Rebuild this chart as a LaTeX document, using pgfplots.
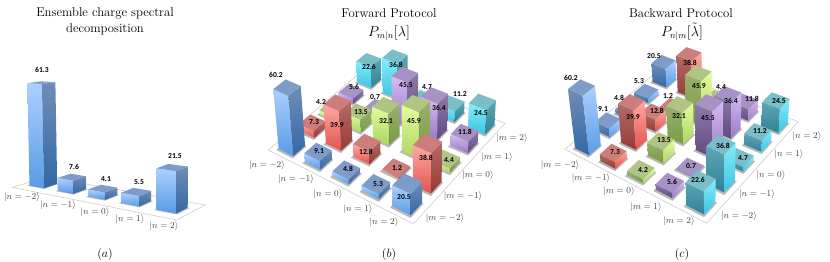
\documentclass[border=0pt]{standalone}
\usepackage{fontspec}
\usepackage{pgfplots}
\pgfplotsset{compat=1.18}
\newfontfamily\vf{Carlito}
\definecolor{blueFT}{RGB}{172,208,255}\definecolor{blueFB}{RGB}{88,155,228}\definecolor{blueST}{RGB}{112,140,182}\definecolor{blueSB}{RGB}{52,104,165}\definecolor{blueTop}{RGB}{126,156,200}
\definecolor{redFT}{RGB}{255,168,162}\definecolor{redFB}{RGB}{226,84,78}\definecolor{redST}{RGB}{178,108,102}\definecolor{redSB}{RGB}{150,58,54}\definecolor{redTop}{RGB}{206,126,122}
\definecolor{greenFT}{RGB}{228,252,158}\definecolor{greenFB}{RGB}{172,212,100}\definecolor{greenST}{RGB}{152,176,108}\definecolor{greenSB}{RGB}{120,155,70}\definecolor{greenTop}{RGB}{176,196,132}
\definecolor{purpleFT}{RGB}{212,188,242}\definecolor{purpleFB}{RGB}{155,120,196}\definecolor{purpleST}{RGB}{142,122,168}\definecolor{purpleSB}{RGB}{94,74,130}\definecolor{purpleTop}{RGB}{166,146,196}
\definecolor{cyanFT}{RGB}{132,236,250}\definecolor{cyanFB}{RGB}{60,196,226}\definecolor{cyanST}{RGB}{92,166,182}\definecolor{cyanSB}{RGB}{48,130,150}\definecolor{cyanTop}{RGB}{122,190,200}
\newcommand\setH[8]{%
 \pgfmathsetmacro\xq{#1/100}\pgfmathsetmacro\yq{(262-#2)/100}%
 \pgfmathsetmacro\xr{#3/100}\pgfmathsetmacro\yr{(262-#4)/100}%
 \pgfmathsetmacro\xs{#5/100}\pgfmathsetmacro\ys{(262-#6)/100}%
 \pgfmathsetmacro\xt{#7/100}\pgfmathsetmacro\yt{(262-#8)/100}%
 \pgfmathsetmacro\dxa{\xr-\xs}\pgfmathsetmacro\dxb{\xt-\xs}\pgfmathsetmacro\sx{\xq-\xr+\xs-\xt}%
 \pgfmathsetmacro\dya{\yr-\ys}\pgfmathsetmacro\dyb{\yt-\ys}\pgfmathsetmacro\sy{\yq-\yr+\ys-\yt}%
 \pgfmathsetmacro\den{\dxa*\dyb-\dxb*\dya}%
 \pgfmathsetmacro\hmg{(\sx*\dyb-\dxb*\sy)/\den}\pgfmathsetmacro\hmh{(\dxa*\sy-\sx*\dya)/\den}%
 \pgfmathsetmacro\hma{\xr-\xq+\hmg*\xr}\pgfmathsetmacro\hmb{\xt-\xq+\hmh*\xt}\let\hmc\xq
 \pgfmathsetmacro\hmd{\yr-\yq+\hmg*\yr}\pgfmathsetmacro\hme{\yt-\yq+\hmh*\yt}\let\hmf\yq
}
% height scale from one measured bar edge: base x,y top x,y value; then the vanishing point of the verticals
\newcommand\setZ[7]{%
 \pgfmathsetmacro\iA{\hme-\hmf*\hmh}\pgfmathsetmacro\iB{\hmc*\hmh-\hmb}\pgfmathsetmacro\iC{\hmb*\hmf-\hmc*\hme}%
 \pgfmathsetmacro\iD{\hmf*\hmg-\hmd}\pgfmathsetmacro\iE{\hma-\hmc*\hmg}\pgfmathsetmacro\iF{\hmc*\hmd-\hma*\hmf}%
 \pgfmathsetmacro\iG{\hmd*\hmh-\hme*\hmg}\pgfmathsetmacro\iH{\hmb*\hmg-\hma*\hmh}\pgfmathsetmacro\iI{\hma*\hme-\hmb*\hmd}%
 \pgfmathsetmacro\bX{#1/100}\pgfmathsetmacro\bY{(262-#2)/100}\pgfmathsetmacro\tY{(262-#4)/100}%
 \pgfmathsetmacro\bW{\iG*\bX+\iH*\bY+\iI}%
 \pgfmathsetmacro\bS{(\iA*\bX+\iB*\bY+\iC)/\bW}\pgfmathsetmacro\bT{(\iD*\bX+\iE*\bY+\iF)/\bW}%
 \pgfmathsetmacro\wo{\hmg*\bS+\hmh*\bT+1}%
 \pgfmathsetmacro\Vx{#6/100}\pgfmathsetmacro\Vy{(262-#7)/100}%
 \pgfmathsetmacro\zk{1000*\wo*((\bY-\Vy)/(\tY-\Vy)-1)/#5}%
}
% cell position x, y and height z in the panel's perspective, to a coordinate pair
\newcommand\Pt[4]{%
 \pgfmathsetmacro\nls{#1/\xdiv}\pgfmathsetmacro\nlt{#2/\ydiv}\pgfmathsetmacro\nlr{#3*\zk/1000}%
 \pgfmathsetmacro\nlw{\hmg*\nls+\hmh*\nlt+1+\nlr}%
 \pgfmathsetmacro\pX{100*(\hma*\nls+\hmb*\nlt+\hmc+\nlr*\Vx)/\nlw}%
 \pgfmathsetmacro\pY{100*(\hmd*\nls+\hme*\nlt+\hmf+\nlr*\Vy)/\nlw}%
 \edef#4{(\pX,\pY)}%
}
\def\gapx{0.22}\def\gapy{0.22}\def\faceL{F}\def\faceR{S}\def\xdiv{5}\def\ydiv{5}\def\shy{1}
\newcommand\floorplate[1]{%
 \Pt{0}{0}{0}\fA\Pt{5}{0}{0}\fB\Pt{5}{#1}{0}\fC\Pt{0}{#1}{0}\fD
 \edef\tmp{\noexpand\addplot[draw=black!22,fill=white,line width=0.5pt] coordinates {\fA\fB\fC\fD\fA};}\tmp
}
% cell x, cell y, value, colour
\newcommand\vbar[4]{%
 \pgfmathsetmacro\xa{#1+\gapx}\pgfmathsetmacro\xb{#1+1-\gapx}%
 \pgfmathsetmacro\ya{#2+\gapy}\pgfmathsetmacro\yb{#2+1-\gapy}%
 \pgfmathsetmacro\sxa{\xa-0.03}\pgfmathsetmacro\sxb{\xb+0.05}\pgfmathsetmacro\sya{\ya-0.08*\shy}%
 \Pt{\sxa}{\sya}{0}\sA\Pt{\sxb}{\sya}{0}\sB\Pt{\sxb}{\yb}{0}\sC\Pt{\sxa}{\yb}{0}\sD
 \Pt{\xa}{\ya}{0}\vA\Pt{\xb}{\ya}{0}\vB\Pt{\xb}{\yb}{0}\vC
 \Pt{\xa}{\ya}{#3}\vE\Pt{\xb}{\ya}{#3}\vF\Pt{\xb}{\yb}{#3}\vG\Pt{\xa}{\yb}{#3}\vH
 \edef\tmp{%
  \noexpand\addplot[draw=none,fill=black,fill opacity=0.28] coordinates {\sA\sB\sC\sD\sA};
  \noexpand\addplot[draw=none,top color=#4\faceL T,bottom color=#4\faceL B] coordinates {\vA\vB\vF\vE\vA};
  \noexpand\addplot[draw=none,top color=#4\faceR T,bottom color=#4\faceR B] coordinates {\vB\vC\vG\vF\vB};
  \noexpand\addplot[draw=none,fill=#4Top] coordinates {\vE\vF\vG\vH\vE};
 }\tmp
}
\newcommand\lab[3]{\node[font=\fontsize{9.2}{10}\selectfont,text=black!75] at (#1,#2) {$|#3\rangle$};}
\newcommand\val[3]{\node[font=\vf\bfseries\fontsize{7.6}{8}\selectfont,inner sep=0pt] at (#1,#2) {#3};}
\begin{document}
\begin{tikzpicture}[x=1pt,y=1pt]
\path[use as bounding box] (0,0) rectangle (830,262);
\begin{axis}[hide axis,disabledatascaling,clip=false,anchor=south west,at={(0pt,0pt)},
  xmin=0,xmax=830,ymin=0,ymax=262,no marks,x=1pt,y=1pt]
% ---------- panel a
\setH{12.5}{187.5}{176.7}{220}{205}{205}{46}{177}
\setZ{45}{188.3}{43.3}{78.3}{61.3}{175}{7000}
\def\gapx{0.24}\def\gapy{0.3}\def\shy{0.5}\def\ydiv{1}
\floorplate{1}
\vbar{0}{0}{61.3}{blue}
\vbar{1}{0}{7.6}{blue}
\vbar{2}{0}{4.1}{blue}
\vbar{3}{0}{5.5}{blue}
\vbar{4}{0}{21.5}{blue}
% ---------- panel b
\setH{268.3}{150}{413.3}{224}{505}{123.3}{365.3}{68.3}
\setZ{295}{155.7}{292.7}{95}{60.2}{410}{1600}
\def\gapx{0.22}\def\gapy{0.22}\def\shy{1}\def\ydiv{5}
\floorplate{5}
\vbar{0}{4}{22.6}{cyan}\vbar{1}{4}{36.8}{cyan}\vbar{2}{4}{4.7}{cyan}\vbar{3}{4}{11.2}{cyan}\vbar{4}{4}{24.5}{cyan}
\vbar{0}{3}{5.6}{purple}\vbar{1}{3}{0.7}{purple}\vbar{2}{3}{45.5}{purple}\vbar{3}{3}{36.4}{purple}\vbar{4}{3}{11.8}{purple}
\vbar{0}{2}{4.2}{green}\vbar{1}{2}{13.5}{green}\vbar{2}{2}{32.1}{green}\vbar{3}{2}{45.9}{green}\vbar{4}{2}{4.4}{green}
\vbar{0}{1}{7.3}{red}\vbar{1}{1}{39.9}{red}\vbar{2}{1}{12.8}{red}\vbar{3}{1}{1.2}{red}\vbar{4}{1}{38.8}{red}
\vbar{0}{0}{60.2}{blue}\vbar{1}{0}{9.1}{blue}\vbar{2}{0}{4.8}{blue}\vbar{3}{0}{5.3}{blue}\vbar{4}{0}{20.5}{blue}
% ---------- panel c
\setH{565}{149.3}{706.7}{223.3}{798.3}{121.7}{660.7}{68.3}
\setZ{591.7}{155}{585}{94.3}{60.2}{715}{1300}
\def\faceL{S}\def\faceR{F}
\floorplate{5}
\vbar{0}{4}{20.5}{blue}\vbar{1}{4}{38.8}{red}\vbar{2}{4}{4.4}{green}\vbar{3}{4}{11.8}{purple}\vbar{4}{4}{24.5}{cyan}
\vbar{0}{3}{5.3}{blue}\vbar{1}{3}{1.2}{red}\vbar{2}{3}{45.9}{green}\vbar{3}{3}{36.4}{purple}\vbar{4}{3}{11.2}{cyan}
\vbar{0}{2}{4.8}{blue}\vbar{1}{2}{12.8}{red}\vbar{2}{2}{32.1}{green}\vbar{3}{2}{45.5}{purple}\vbar{4}{2}{4.7}{cyan}
\vbar{0}{1}{9.1}{blue}\vbar{1}{1}{39.9}{red}\vbar{2}{1}{13.5}{green}\vbar{3}{1}{0.7}{purple}\vbar{4}{1}{36.8}{cyan}
\vbar{0}{0}{60.2}{blue}\vbar{1}{0}{7.3}{red}\vbar{2}{0}{4.2}{green}\vbar{3}{0}{5.6}{purple}\vbar{4}{0}{22.6}{cyan}
\end{axis}
% ---------- text, in picture positions with y measured from the top
\begin{scope}[y=-1pt,yshift=262pt]
\node[font=\fontsize{12.7}{14}\selectfont] at (105,13) {Ensemble charge spectral};
\node[font=\fontsize{12.7}{14}\selectfont] at (105,29) {decomposition};
\node[font=\fontsize{12.7}{14}\selectfont] at (389,13) {Forward Protocol};
\node[font=\fontsize{12.7}{14}\selectfont] at (681,13) {Backward Protocol};
\node[font=\fontsize{13.5}{14}\selectfont] at (389,33) {$P_{m|n}[\lambda]$};
\node[font=\fontsize{13.5}{14}\selectfont] at (682,32) {$P_{n|m}[\tilde{\lambda}]$};
\node[font=\fontsize{12.3}{14}\selectfont] at (105,255) {$(a)$};
\node[font=\fontsize{12.3}{14}\selectfont] at (389,255) {$(b)$};
\node[font=\fontsize{12.3}{14}\selectfont] at (682,255) {$(c)$};
\lab{22}{197}{n=-2}\lab{58}{205}{n=-1}\lab{95}{212}{n=0}\lab{130}{219}{n=1}\lab{164}{226}{n=2}
\val{42}{70}{61.3}\val{74}{167}{7.6}\val{106}{179}{4.1}\val{139}{182}{5.5}\val{175}{156}{21.5}
\lab{267}{165}{n=-2}\lab{296}{179}{n=-1}\lab{328}{194}{n=0}\lab{358}{209}{n=1}\lab{384}{222}{n=2}
\lab{445}{218}{m=-2}\lab{463}{196}{m=-1}\lab{478}{175}{m=0}\lab{497}{157}{m=1}\lab{512}{138}{m=2}
\val{276}{75}{60.2}\val{319}{151}{9.1}\val{348}{169}{4.8}\val{378}{184}{5.3}\val{404}{197}{20.5}
\val{314}{122}{7.3}\val{337}{125}{39.9}\val{366}{152}{12.8}\val{397}{168}{1.2}\val{426}{158}{38.8}
\val{321}{102}{4.2}\val{361}{112}{13.5}\val{386}{121}{32.1}\val{414}{121}{45.9}\val{449}{160}{4.4}
\val{354}{87}{5.6}\val{375}{97}{0.7}\val{406}{85}{45.5}\val{439}{108}{36.4}\val{465}{132}{11.8}
\val{369}{67}{22.6}\val{396}{65}{36.8}\val{427}{87}{4.7}\val{460}{94}{11.2}\val{481}{113}{24.5}
\lab{560}{165}{m=-2}\lab{591}{178}{m=-1}\lab{619}{191}{m=0}\lab{646}{207}{m=1}\lab{679}{221}{m=2}
\lab{739}{216}{n=-2}\lab{757}{194}{n=-1}\lab{771}{175}{n=0}\lab{789}{154}{n=1}\lab{807}{136}{n=2}
\val{571}{78}{60.2}\val{603}{109}{9.1}\val{619}{98}{4.8}\val{639}{81}{5.3}\val{654}{56}{20.5}
\val{615}{152}{7.3}\val{633}{117}{39.9}\val{657}{111}{12.8}\val{668}{96}{1.2}\val{690}{63}{38.8}
\val{643}{170}{4.2}\val{664}{140}{13.5}\val{679}{116}{32.1}\val{699}{86}{45.9}\val{721}{87}{4.4}
\val{672}{182}{5.6}\val{691}{166}{0.7}\val{708}{118}{45.5}\val{731}{101}{36.4}\val{752}{99}{11.8}
\val{698}{180}{22.6}\val{723}{146}{36.8}\val{743}{158}{4.7}\val{760}{131}{11.2}\val{779}{101}{24.5}
\end{scope}
\end{tikzpicture}
\end{document}
